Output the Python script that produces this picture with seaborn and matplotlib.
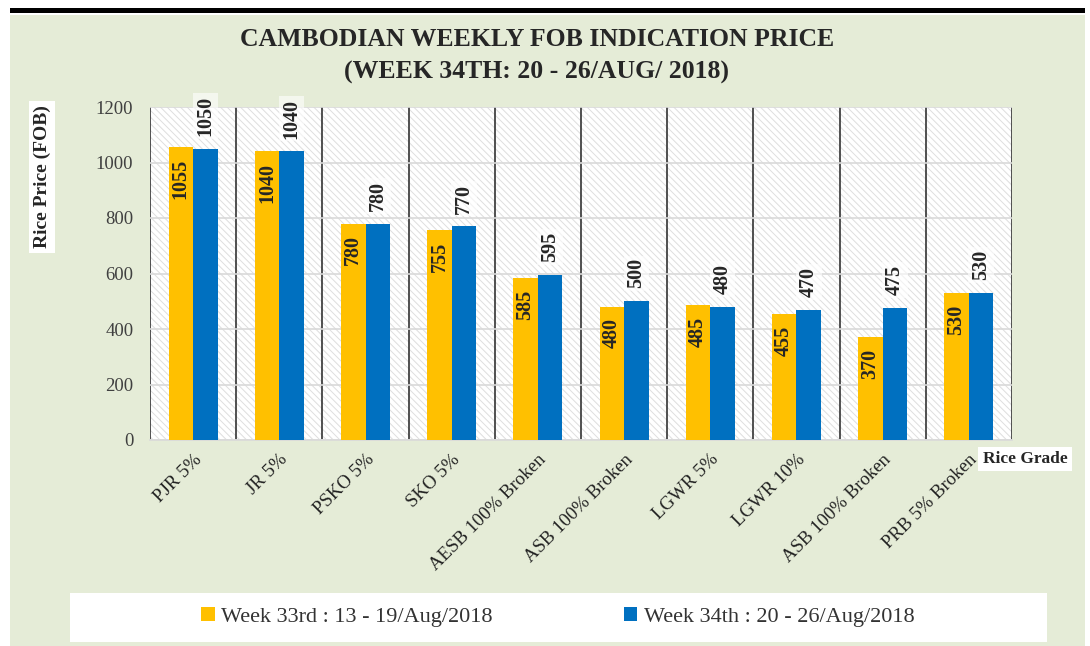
import matplotlib
matplotlib.use("Agg")
import matplotlib.pyplot as plt
from matplotlib.patches import Rectangle, Patch
import seaborn as sns
import pandas as pd

grades = ["PJR 5%", "JR 5%", "PSKO 5%", "SKO 5%", "AESB 100% Broken",
          "ASB 100% Broken", "LGWR 5%", "LGWR 10%", "ASB 100% Broken ", "PRB 5% Broken"]
week33 = [1055, 1040, 780, 755, 585, 480, 485, 455, 370, 530]
week34 = [1050, 1040, 780, 770, 595, 500, 480, 470, 475, 530]
series_names = ["Week 33rd : 13 - 19/Aug/2018", "Week 34th : 20 - 26/Aug/2018"]
yticks = [0, 200, 400, 600, 800, 1000, 1200]

ORANGE = "#FFC000"
BLUE = "#0070C0"
BG = "#E5ECD7"
SERIF = "Liberation Serif"

df = pd.DataFrame({
    "grade": grades * 2,
    "price": week33 + week34,
    "week": [series_names[0]] * len(grades) + [series_names[1]] * len(grades),
})

sns.set_style("white")
plt.rcParams["font.family"] = [SERIF, "DejaVu Serif"]
plt.rcParams["hatch.linewidth"] = 0.7

W, H = 1090, 646
fig = plt.figure(figsize=(W / 100, H / 100), dpi=100, facecolor="white")

# green background and top border
fig.patches.append(Rectangle((10 / W, 0), 1075 / W, (H - 15) / H, transform=fig.transFigure,
                             facecolor=BG, edgecolor="none", zorder=-10))
fig.patches.append(Rectangle((10 / W, (H - 13) / H), 1075 / W, 5 / H, transform=fig.transFigure,
                             facecolor="black", edgecolor="none", zorder=-9))

ax = fig.add_axes([150 / W, (H - 440) / H, 862 / W, 333 / H])
ax.set_facecolor("white")
ax.add_patch(Rectangle((0, 0), 1, 1, transform=ax.transAxes, facecolor="white",
                       edgecolor="#DEDEDE", hatch="\\\\\\\\\\", linewidth=0, zorder=0))

sns.barplot(data=df, x="grade", y="price", hue="week", palette=[ORANGE, BLUE],
            width=0.57, saturation=1, ax=ax, legend=False, zorder=3, linewidth=0)

ax.set_ylim(0, 1200)
ax.set_xlim(-0.5, len(grades) - 0.5)
ax.set_yticks(yticks)
ax.set_yticklabels([str(v) for v in yticks], fontsize=13.5, color="#404040", family=SERIF)
ax.yaxis.grid(True, color="#D9D9D9", linewidth=1.2, zorder=1)
ax.set_axisbelow(False)
for i in range(len(grades) + 1):
    ax.axvline(i - 0.5, color="#333333", linewidth=1.2, zorder=2)

ax.set_xticks(range(len(grades)))
ax.set_xticklabels([g.strip() for g in grades], rotation=45, ha="right",
                   rotation_mode="anchor", fontsize=13.5, color="#222222", family=SERIF)
ax.tick_params(axis="x", length=0, pad=8)
ax.tick_params(axis="y", length=0, pad=12)
ax.set_xlabel("")
ax.set_ylabel("")
for s in ["top", "right", "left"]:
    ax.spines[s].set_visible(False)
ax.spines["bottom"].set_color("#D9D9D9")
ax.spines["bottom"].set_linewidth(1.2)

# value labels
c0, c1 = ax.containers[0], ax.containers[1]
for bar, v in zip(c0, week33):
    ax.text(bar.get_x() + bar.get_width() / 2, v - 42, str(v), rotation=90,
            ha="center", va="top", fontsize=14.5, fontweight="bold", family=SERIF, zorder=5)
for bar, v in zip(c1, week34):
    ax.text(bar.get_x() + bar.get_width() / 2, v + 46, str(v), rotation=90,
            ha="center", va="bottom", fontsize=14.5, fontweight="bold", family=SERIF, zorder=5,
            bbox=dict(facecolor="white", alpha=0.6, edgecolor="none", pad=2))

# titles
fig.text(537 / W, 1 - 40 / H, "CAMBODIAN WEEKLY FOB INDICATION PRICE", ha="center", va="center",
         fontsize=18.5, fontweight="bold", family=SERIF)
fig.text(537 / W, 1 - 72 / H, "(WEEK 34TH: 20 - 26/AUG/ 2018)", ha="center", va="center",
         fontsize=18.5, fontweight="bold", family=SERIF)

fig.text(42 / W, 1 - 177 / H, "Rice Price (FOB)", rotation=90, ha="center", va="center",
         fontsize=14, fontweight="bold", family=SERIF,
         bbox=dict(facecolor="white", edgecolor="none", pad=3))
fig.text(1025 / W, 1 - 459 / H, "Rice Grade", ha="center", va="center",
         fontsize=12.5, fontweight="bold", family=SERIF,
         bbox=dict(facecolor="white", edgecolor="none", pad=3))

# legend
fig.patches.append(Rectangle((70 / W, 4 / H), 977 / W, 49 / H, transform=fig.transFigure,
                             facecolor="white", edgecolor="none", zorder=-5))
handles = [Patch(facecolor=ORANGE, edgecolor="none"), Patch(facecolor=BLUE, edgecolor="none")]
fig.legend(handles, series_names, loc="center", bbox_to_anchor=(558 / W, 1 - 617 / H),
           ncol=2, frameon=False, handlelength=0.6, handleheight=0.6,
           handletextpad=0.3, columnspacing=5.9, labelcolor="#333333",
           prop={"family": SERIF, "size": 16})

fig.savefig("out.png", dpi=100, facecolor="white")
